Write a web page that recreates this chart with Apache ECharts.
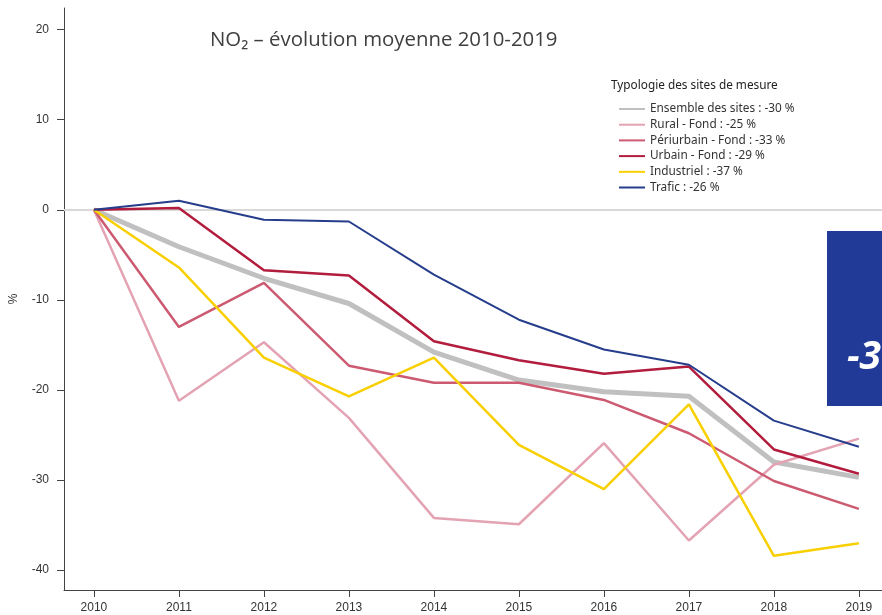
<!DOCTYPE html>
<html>
<head>
<meta charset="utf-8">
<script src="https://cdn.jsdelivr.net/npm/echarts@6/dist/echarts.min.js"></script>
<style>
  html, body { margin: 0; padding: 0; background: #fff; }
  #chart { width: 882px; height: 615px; }
</style>
</head>
<body>
<div id="chart"></div>
<script>
// années
const years = [2010, 2011, 2012, 2013, 2014, 2015, 2016, 2017, 2018, 2019];
const yTicks = [-40, -30, -20, -10, 0, 10, 20];

// évolution en % par typologie
const ensemble   = [0, -4.1, -7.6, -10.4, -15.8, -18.9, -20.2, -20.7, -28.0, -29.7];
const rural      = [0, -21.2, -14.7, -23.1, -34.2, -34.9, -25.9, -36.7, -28.3, -25.4];
const periurbain = [0, -13.0, -8.1, -17.3, -19.2, -19.2, -21.1, -24.8, -30.1, -33.2];
const urbain     = [0, 0.2, -6.7, -7.3, -14.6, -16.7, -18.2, -17.4, -26.6, -29.3];
const industriel = [0, -6.4, -16.4, -20.7, -16.4, -26.1, -31.0, -21.6, -38.4, -37.0];
const trafic     = [0, 1.0, -1.1, -1.3, -7.2, -12.2, -15.5, -17.2, -23.4, -26.3];

const seriesNames = [
  "Ensemble des sites : -30 %",
  "Rural - Fond : -25 %",
  "Périurbain - Fond : -33 %",
  "Urbain - Fond : -29 %",
  "Industriel : -37 %",
  "Trafic : -26 %"
];
const seriesData = [ensemble, rural, periurbain, urbain, industriel, trafic];
const colors = ["#c0c0c0", "#e3a3b3", "#cc5a71", "#b21c3d", "#f8cf00", "#263d8c"];
const widths = [5, 2.5, 2.5, 2.5, 2.5, 2];

const chart = echarts.init(document.getElementById("chart"));

const series = seriesData.map((vals, i) => ({
  name: seriesNames[i],
  type: "line",
  symbol: "none",
  data: vals.map((v, k) => [years[k], v]),
  lineStyle: { color: colors[i], width: widths[i] },
  itemStyle: { color: colors[i] },
  z: 3 + i
}));

// ligne du zéro
series.unshift({
  name: "zero",
  type: "line",
  data: [],
  silent: true,
  z: 1,
  markLine: {
    silent: true,
    symbol: "none",
    label: { show: false },
    lineStyle: { color: "#d9d9d9", width: 2, type: "solid" },
    data: [{ yAxis: 0 }]
  }
});

chart.setOption({
  animation: false,
  grid: { left: 62, right: 0, top: 8, bottom: 25 },
  xAxis: {
    type: "value",
    min: 2009.648,
    max: 2019.272,
    axisLine: { show: true, onZero: false, lineStyle: { color: "#444", width: 1 } },
    axisTick: { show: true, customValues: years, length: 7, lineStyle: { color: "#444" } },
    axisLabel: {
      customValues: years,
      formatter: v => String(v),
      color: "#333",
      fontFamily: "Liberation Sans",
      fontSize: 12,
      margin: 12
    },
    splitLine: { show: false }
  },
  yAxis: {
    type: "value",
    min: -42.2,
    max: 22.4,
    name: "%",
    nameLocation: "middle",
    nameGap: 44,
    nameTextStyle: { color: "#333", fontFamily: "Liberation Sans", fontSize: 12 },
    axisLine: { show: true, onZero: false, lineStyle: { color: "#444", width: 1 } },
    axisTick: { show: true, customValues: yTicks, length: 7, lineStyle: { color: "#444" } },
    axisLabel: {
      customValues: yTicks,
      color: "#333",
      fontFamily: "Liberation Sans",
      fontSize: 12,
      margin: 15
    },
    splitLine: { show: false }
  },
  legend: {
    data: seriesNames,
    orient: "vertical",
    left: 613,
    top: 98,
    itemWidth: 26,
    itemHeight: 12,
    itemGap: 3.7,
    itemStyle: { opacity: 0 },
    textStyle: { color: "#333", fontFamily: "Noto Sans", fontSize: 11.8, lineHeight: 12 }
  },
  graphic: [
    {
      type: "text",
      left: 210,
      top: 30,
      style: {
        text: "NO₂ – évolution moyenne 2010-2019",
        fill: "#404040",
        font: "20.4px 'Open Sans'"
      }
    },
    {
      type: "text",
      left: 611,
      top: 80,
      style: { text: "Typologie des sites de mesure", fill: "#222", font: "11.8px 'Noto Sans'" }
    },
    {
      type: "rect",
      shape: { x: 827, y: 231, width: 60, height: 175 },
      style: { fill: "#213a97" },
      z: 20
    },
    {
      type: "text",
      x: 847,
      y: 358,
      style: {
        text: "-30 %",
        fill: "#fff",
        font: "italic bold 39px 'Open Sans'",
        verticalAlign: "middle"
      },
      z: 21
    }
  ],
  series: series
});
</script>
</body>
</html>
